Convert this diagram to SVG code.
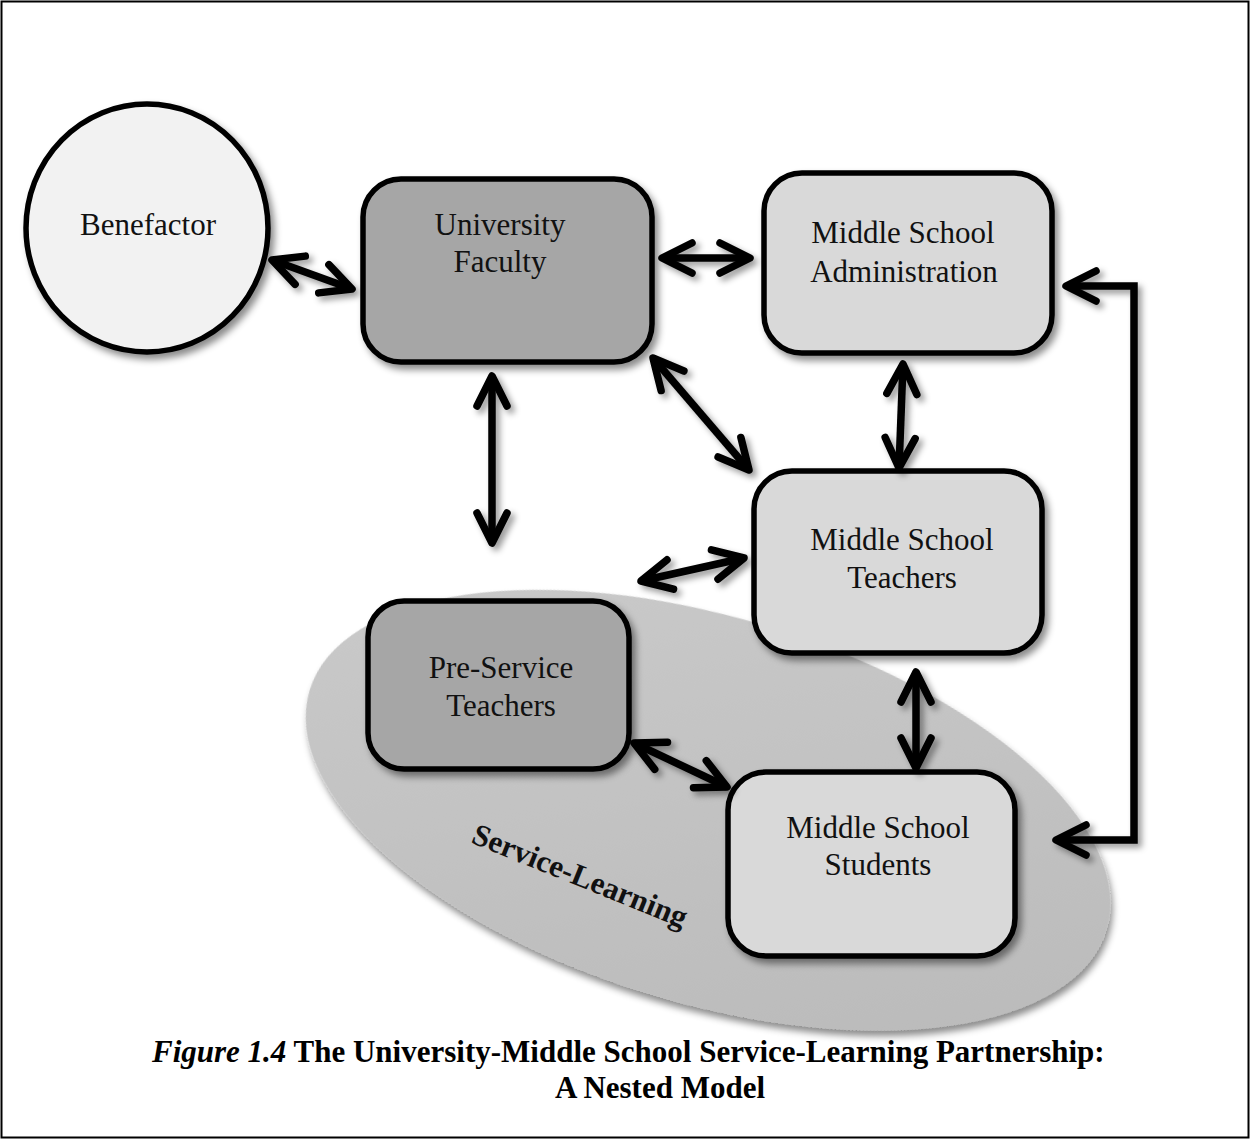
<svg xmlns="http://www.w3.org/2000/svg" width="1250" height="1139" viewBox="0 0 1250 1139">
  <defs>
    <style>
      .node { stroke: #000; stroke-width: 5.5; }
      .dark { fill: #a6a6a6; }
      .light { fill: #d9d9d9; }
      .lbl { font-family: "Liberation Serif", "Times New Roman", serif; font-size: 31px; fill: #111; text-anchor: middle; }
      .conn { fill: none; stroke: #000; stroke-width: 7.5; stroke-linejoin: miter; }
      .cap { font-family: "Liberation Serif", "Times New Roman", serif; font-size: 31px; font-weight: bold; fill: #000; }
    </style>
    <filter id="shadow" x="-20%" y="-20%" width="150%" height="150%">
      <feDropShadow dx="4" dy="5" stdDeviation="3.5" flood-color="#000" flood-opacity="0.45"/>
    </filter>
    <filter id="ashadow" x="-30%" y="-30%" width="160%" height="160%">
      <feDropShadow dx="4" dy="4" stdDeviation="3" flood-color="#000" flood-opacity="0.4"/>
    </filter>
    <linearGradient id="elg" x1="0" y1="0" x2="1" y2="1">
      <stop offset="0" stop-color="#cbcbcb"/>
      <stop offset="1" stop-color="#b9b9b9"/>
    </linearGradient>
    <marker id="ah" markerUnits="userSpaceOnUse" markerWidth="60" markerHeight="60" refX="0" refY="0" orient="auto-start-reverse" style="overflow:visible">
      <path d="M-30,-15 L0,0 L-30,15" fill="none" stroke="#000" stroke-width="7.5" stroke-linecap="round" stroke-linejoin="round"/>
    </marker>
  </defs>

  <rect x="0" y="0" width="1250" height="1139" fill="#fff"/>
  <rect x="1.5" y="1.5" width="1247" height="1136" fill="none" stroke="#000" stroke-width="2"/>

  <g id="service-learning">
    <ellipse cx="708" cy="810" rx="416" ry="193" transform="rotate(16.7 708 810)" fill="url(#elg)" filter="url(#shadow)"/>
    <text x="580" y="876" transform="rotate(22 580 876)" dy="10" font-family="'Liberation Serif', 'Times New Roman', serif" font-size="31" font-weight="bold" text-anchor="middle" fill="#111">Service-Learning</text>
  </g>

  <g id="benefactor">
    <ellipse cx="147" cy="228" rx="121" ry="124" fill="#f2f2f2" class="node" filter="url(#shadow)"/>
    <text class="lbl" x="148" y="235">Benefactor</text>
  </g>

  <g id="university-faculty">
    <rect x="363" y="179" width="289" height="183" rx="38" class="node dark" filter="url(#shadow)"/>
    <text class="lbl" x="500" y="235">University</text>
    <text class="lbl" x="500" y="272">Faculty</text>
  </g>

  <g id="ms-administration">
    <rect x="764" y="173" width="288" height="180" rx="38" class="node light" filter="url(#shadow)"/>
    <text class="lbl" x="903" y="243">Middle School</text>
    <text class="lbl" x="904" y="282">Administration</text>
  </g>

  <g id="ms-teachers">
    <rect x="754" y="471" width="288" height="182" rx="38" class="node light" filter="url(#shadow)"/>
    <text class="lbl" x="902" y="550">Middle School</text>
    <text class="lbl" x="902" y="588">Teachers</text>
  </g>

  <g id="preservice-teachers">
    <rect x="368" y="601" width="261" height="168" rx="36" class="node dark" filter="url(#shadow)"/>
    <text class="lbl" x="501" y="678">Pre-Service</text>
    <text class="lbl" x="501" y="716">Teachers</text>
  </g>

  <g id="ms-students">
    <rect x="728" y="772" width="287" height="184" rx="38" class="node light" filter="url(#shadow)"/>
    <text class="lbl" x="878" y="838">Middle School</text>
    <text class="lbl" x="878" y="875">Students</text>
  </g>

  <g id="connectors" filter="url(#ashadow)">
    <path class="conn" d="M272,260 L352,289" marker-start="url(#ah)" marker-end="url(#ah)"/>
    <path class="conn" d="M662,258 L750,258" marker-start="url(#ah)" marker-end="url(#ah)"/>
    <path class="conn" d="M653,358 L749,470" marker-start="url(#ah)" marker-end="url(#ah)"/>
    <path class="conn" d="M903,364 L899,468" marker-start="url(#ah)" marker-end="url(#ah)"/>
    <path class="conn" d="M492,376 L492,543" marker-start="url(#ah)" marker-end="url(#ah)"/>
    <path class="conn" d="M641,581 L744,558" marker-start="url(#ah)" marker-end="url(#ah)"/>
    <path class="conn" d="M916,672 L916,768" marker-start="url(#ah)" marker-end="url(#ah)"/>
    <path class="conn" d="M634,743 L727,787" marker-start="url(#ah)" marker-end="url(#ah)"/>
    <path class="conn" d="M1066,286 L1134,286 L1134,840 L1056,840" marker-start="url(#ah)" marker-end="url(#ah)"/>
  </g>

  <g id="caption">
    <text class="cap" x="152" y="1062"><tspan font-style="italic">Figure 1.4</tspan> The University-Middle School Service-Learning Partnership:</text>
    <text class="cap" x="660" y="1098" text-anchor="middle">A Nested Model</text>
  </g>
</svg>
